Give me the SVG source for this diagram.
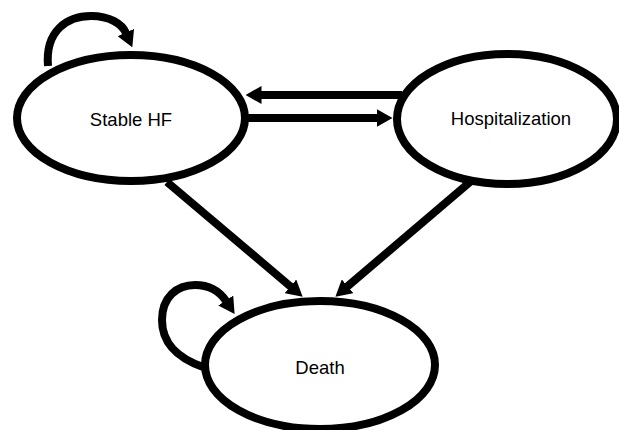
<svg xmlns="http://www.w3.org/2000/svg" width="619" height="430" viewBox="0 0 619 430">
<style>
.node ellipse{fill:#fff;stroke:#000;stroke-width:8}
.node text{font-family:"Liberation Sans",Arial,sans-serif;font-size:18.5px;fill:#000;text-anchor:middle}
.edge{fill:none;stroke:#000;stroke-width:8;marker-end:url(#ah)}
</style>
<defs>
<marker id="ah" viewBox="0 0 16 18" refX="0.5" refY="9" markerWidth="16" markerHeight="18" markerUnits="userSpaceOnUse" orient="auto">
<path d="M0,0 L16,9 L0,18 Z" fill="#000"/>
</marker>
</defs>
<rect width="619" height="430" fill="#fff"/>
<g id="stable" class="node">
<ellipse cx="131" cy="118" rx="114" ry="63"/>
<text x="131" y="126">Stable HF</text>
</g>
<g id="hosp" class="node">
<ellipse cx="507" cy="119" rx="110" ry="65"/>
<text x="511" y="125">Hospitalization</text>
</g>
<g id="death" class="node">
<ellipse cx="320" cy="365" rx="115" ry="64"/>
<text x="320" y="374">Death</text>
</g>
<g id="connectors">
<path class="edge" d="M402,95 L261,95"/>
<path class="edge" d="M247,118 L377,118"/>
<path class="edge" d="M167,182 L290.8,286.7"/>
<path class="edge" d="M470,182 L347.2,286.6"/>
<path class="edge" d="M48,66 C45,30 68,16 91,16 C110,16 122,24 126,33"/>
<path class="edge" d="M203,367 C178,358 162,344 162,320 C162,297 177,285 195,285 C210,285 220,292 226,301"/>
</g>
</svg>
